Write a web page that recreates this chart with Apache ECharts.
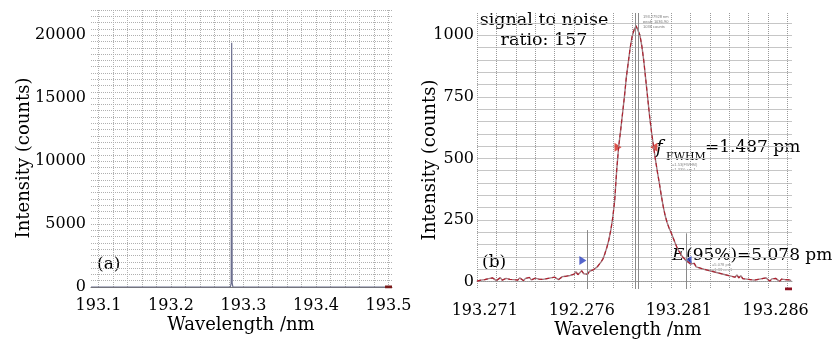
<!DOCTYPE html>
<html>
<head>
<meta charset="utf-8">
<script src="https://cdn.jsdelivr.net/npm/echarts@6/dist/echarts.min.js"></script>
<style>
  html, body { margin: 0; padding: 0; background: #fff; }
  #chart { width: 833px; height: 339px; }
</style>
</head>
<body>
<div id="chart"></div>
<script>
// ---- panel (a): full spectrum ----
const xTicksA = [193.1, 193.2, 193.3, 193.4, 193.5];
const yTicksA = [0, 5000, 10000, 15000, 20000];
const spikeWavelengthA = [193.0897, 193.2820, 193.2830, 193.2837, 193.2844, 193.2854, 193.5048];
const spikeCountsA = [0, 0, 300, 19400, 300, 0, 0];
const endMarkA = [[193.4952, 0], [193.5048, 0]];

// ---- panel (b): zoomed line ----
const xTicksB = [193.271, 193.276, 193.281, 193.286];
const xTickTextB = ["193.271", "192.276", "193.281", "193.286"];
const yTicksB = [0, 250, 500, 750, 1000];
const specStartB = 193.2706;
const specStepB = 0.0001;
const specCountsB = [
  2, 10, 6, 14, 8, 3, 12, 7, 15, 9,
  4, 11, 16, 6, 10, 13, 5, 9, 14, 8,
  12, 6, 15, 10, 4, 13, 9, 17, 7, 11,
  14, 6, 10, 16, 9, 5, 12, 8, 15, 10,
  18, 12, 8, 16, 20, 14, 22, 17, 25, 21,
  30, 40, 28, 36, 44, 32, 38, 30, 42, 50,
  48, 55, 60, 70, 80, 93, 115, 140, 170, 210,
  260, 330, 450, 545, 610, 680, 750, 830, 890, 950,
  995, 1022, 1038, 1030, 1000, 955, 895, 820, 745, 670,
  605, 550, 495, 445, 400, 350, 305, 268, 240, 218,
  200, 180, 160, 140, 125, 112, 100, 92, 85, 78,
  72, 66, 74, 60, 68, 55, 63, 50, 58, 46,
  54, 42, 50, 38, 45, 34, 40, 30, 38, 26,
  33, 22, 30, 18, 27, 15, 24, 12, 20, 10,
  18, 8, 16, 6, 14, 9, 3, 12, 5, 15,
  7, 2, 11, 4, 13, 6, 1, 10, 3, 8,
  2, 7, 4
];
const fwhmMarksB = [[193.27787, 545], [193.27972, 545]];
const e95MarksB = [[193.27606, 86], [193.28148, 86]];
const cursorLinesB = [[193.27627, 209], [193.28137, 196]];
const peakLinesB = [193.27877, 193.27890];
const endMarkB = [[193.28648, -30], [193.28684, -30]];

const serif = "'DejaVu Serif', 'Liberation Serif', serif";
const ink = "#000";

const minA = 193.0897, maxA = 193.5048;
const minB = 193.2706, maxB = 193.28684;

// grid line positions
const gridXA = [];
for (let k = 0; k <= 20; k++) gridXA.push(+(193.1 + k * 0.02).toFixed(3));
const gridXB = [];
for (let k = 0; k <= 16; k++) gridXB.push(+(minB + k * 0.001).toFixed(5));
const gridYB = [];
for (let v = 0; v <= 1050; v += 50) gridYB.push(v);

const chart = echarts.init(document.getElementById("chart"), null, { renderer: "canvas" });

const spectrumB = specCountsB.map((v, i) => [specStartB + i * specStepB, v]);

const option = {
  animation: false,
  backgroundColor: "#fff",
  textStyle: { fontFamily: serif },
  grid: [
    { left: 91, top: 10, width: 301, height: 277 },
    { left: 477, top: 13, width: 315, height: 276 }
  ],
  xAxis: [
    {
      gridIndex: 0, type: "value", min: minA, max: maxA,
      axisLine: { show: true, lineStyle: { color: "#777", width: 1 } },
      axisTick: { show: false, customValues: gridXA },
      axisLabel: {
        customValues: xTicksA, margin: 11, fontSize: 16, color: ink, fontFamily: serif,
        formatter: (v) => v.toFixed(1)
      },
      splitLine: { show: true, lineStyle: { color: "#b0b0b0", type: "dotted", width: 1 } }
    },
    {
      gridIndex: 1, type: "value", min: minB, max: maxB,
      axisLine: { show: true, lineStyle: { color: "#999", type: "dotted", width: 1 } },
      axisTick: { show: false, customValues: gridXB },
      axisLabel: {
        customValues: xTicksB, margin: 14, fontSize: 16, color: ink, fontFamily: serif,
        formatter: (v) => {
          const i = xTicksB.findIndex((t) => Math.abs(t - v) < 1e-6);
          return i >= 0 ? xTickTextB[i] : "";
        }
      },
      splitLine: { show: true, lineStyle: { color: "#9a9a9a", type: "dotted", width: 1 } }
    }
  ],
  yAxis: [
    {
      gridIndex: 0, type: "value", min: 0, max: 22000, interval: 500,
      axisLine: { show: false },
      axisTick: { show: false },
      axisLabel: {
        customValues: yTicksA, margin: 5, fontSize: 16, color: ink, fontFamily: serif,
        formatter: (v) => String(v)
      },
      splitLine: { show: true, lineStyle: { color: "#b0b0b0", type: "dotted", width: 1 } }
    },
    {
      gridIndex: 1, type: "value", min: -30, max: 1090,
      axisLine: { show: false },
      axisTick: { show: false, customValues: gridYB },
      axisLabel: {
        customValues: yTicksB, margin: 3, fontSize: 16, color: ink, fontFamily: serif,
        formatter: (v) => String(v)
      },
      splitLine: { show: true, lineStyle: { color: "#c6c6c6", type: "solid", width: 1 } }
    }
  ],
  series: [
    {
      type: "line", xAxisIndex: 0, yAxisIndex: 0, symbol: "none",
      data: spikeWavelengthA.map((x, i) => [x, spikeCountsA[i]]),
      lineStyle: { color: "#6b6e8e", width: 1.2 }
    },
    {
      type: "line", xAxisIndex: 0, yAxisIndex: 0, symbol: "none",
      data: endMarkA, lineStyle: { color: "#7a1a1a", width: 3 }
    },
    {
      type: "line", xAxisIndex: 1, yAxisIndex: 1, symbol: "none",
      data: spectrumB,
      lineStyle: { color: "#a07a80", width: 1.4 },
      markLine: {
        silent: true, symbol: "none", label: { show: false },
        lineStyle: { color: "#8a8a8a", type: "solid", width: 1 },
        data: cursorLinesB.map(([x, top]) => [{ coord: [x, -30] }, { coord: [x, top] }])
          .concat(peakLinesB.map((x) => [{ coord: [x, -30] }, { coord: [x, 1090] }]))
      }
    },
    {
      type: "line", xAxisIndex: 1, yAxisIndex: 1, symbol: "none",
      data: spectrumB,
      lineStyle: { color: "#b01e2c", width: 1.1, type: [4, 3] }
    },
    {
      type: "line", xAxisIndex: 1, yAxisIndex: 1, symbol: "none",
      data: endMarkB, lineStyle: { color: "#8b1020", width: 3 }
    },
    {
      type: "scatter", xAxisIndex: 1, yAxisIndex: 1, symbol: "triangle",
      symbolSize: [9, 7],
      symbolRotate: (val, p) => (p.dataIndex === 0 ? -90 : 90),
      itemStyle: { color: "#d42a20" },
      data: fwhmMarksB
    },
    {
      type: "scatter", xAxisIndex: 1, yAxisIndex: 1, symbol: "triangle",
      symbolSize: [9, 7],
      symbolRotate: (val, p) => (p.dataIndex === 0 ? -90 : 90),
      itemStyle: { color: "#2a3fbf" },
      data: e95MarksB
    }
  ],
  graphic: [
    { type: "text", x: 24, y: 158, rotation: Math.PI / 2,
      style: { text: "Intensity (counts)", font: "18px " + serif, fill: ink, align: "center", verticalAlign: "middle" } },
    { type: "text", x: 241, y: 325,
      style: { text: "Wavelength /nm", font: "18px " + serif, fill: ink, align: "center", verticalAlign: "middle" } },
    { type: "text", x: 430, y: 160, rotation: Math.PI / 2,
      style: { text: "Intensity (counts)", font: "18px " + serif, fill: ink, align: "center", verticalAlign: "middle" } },
    { type: "text", x: 628, y: 330,
      style: { text: "Wavelength /nm", font: "18px " + serif, fill: ink, align: "center", verticalAlign: "middle" } },
    { type: "text", x: 97, y: 265,
      style: { text: "(a)", font: "17px " + serif, fill: ink, align: "left", verticalAlign: "middle" } },
    { type: "text", x: 482, y: 263,
      style: { text: "(b)", font: "17px " + serif, fill: ink, align: "left", verticalAlign: "middle" } },
    { type: "text", x: 544, y: 30,
      style: { text: "signal to noise\nratio: 157", font: "17.5px " + serif, lineHeight: 20, fill: ink, align: "center", verticalAlign: "middle" } },
    { type: "text", x: 656, y: 148,
      style: { text: "f", font: "italic 18px " + serif, fill: ink, align: "left", verticalAlign: "middle" } },
    { type: "text", x: 666, y: 157,
      style: { text: "FWHM", font: "11px " + serif, fill: ink, align: "left", verticalAlign: "middle" } },
    { type: "text", x: 705, y: 148,
      style: { text: "=1.487 pm", font: "17px " + serif, fill: ink, align: "left", verticalAlign: "middle" } },
    { type: "text", x: 672, y: 256,
      style: { text: "E", font: "italic 17px " + serif, fill: ink, align: "left", verticalAlign: "middle" } },
    { type: "text", x: 686, y: 256,
      style: { text: "(95%)=5.078 pm", font: "17px " + serif, fill: ink, align: "left", verticalAlign: "middle" } },
    { type: "text", x: 643, y: 14,
      style: { text: "193.27928 nm\npeak: 1036.90\n1036 counts", font: "4px sans-serif", lineHeight: 5, fill: "#777", align: "left", verticalAlign: "top" } },
    { type: "text", x: 672, y: 162,
      style: { text: "=1.53(FWHM)\n=1.33% cm-1", font: "4px sans-serif", lineHeight: 5, fill: "#888", align: "left", verticalAlign: "top" } },
    { type: "text", x: 712, y: 262,
      style: { text: "=5.078 pm\n=1.33 cm-1", font: "4px sans-serif", lineHeight: 5, fill: "#888", align: "left", verticalAlign: "top" } }
  ]
};

chart.setOption(option);
</script>
</body>
</html>
